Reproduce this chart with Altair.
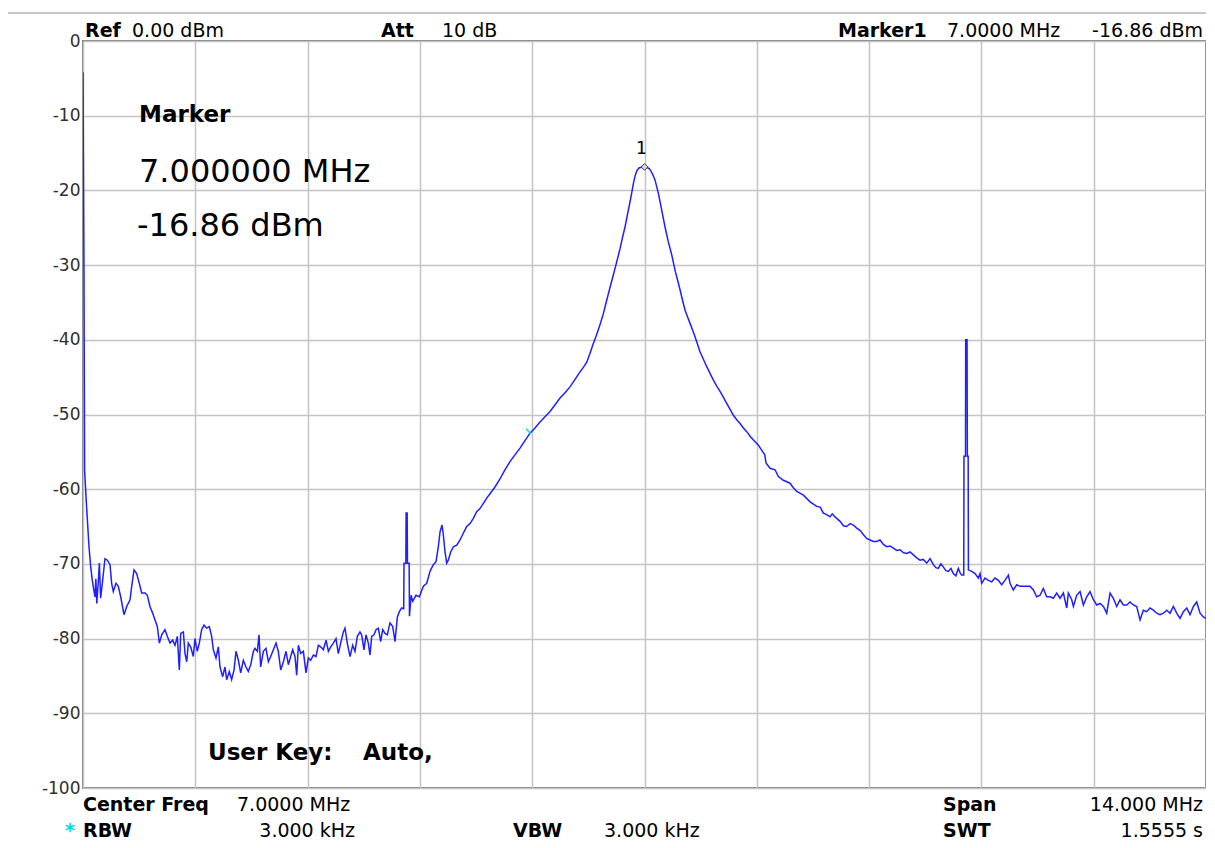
import altair as alt
import pandas as pd

# ---- trace (frequency in MHz, level in dBm) ----
freq = [
    0.000, 0.012, 0.020, 0.046, 0.075, 0.096, 0.116, 0.135, 0.150, 0.160, 0.172, 0.190, 0.204, 0.220, 0.245,
    0.274, 0.303, 0.337, 0.357, 0.378, 0.411, 0.440, 0.470, 0.511, 0.545, 0.586, 0.607, 0.636, 0.669, 0.702,
    0.731, 0.773, 0.802, 0.835, 0.869, 0.898, 0.927, 0.952, 0.981, 1.022, 1.051, 1.085, 1.118, 1.147, 1.176,
    1.201, 1.218, 1.251, 1.272, 1.293, 1.313, 1.342, 1.375, 1.396, 1.425, 1.450, 1.479, 1.509, 1.542, 1.575,
    1.604, 1.625, 1.658, 1.687, 1.708, 1.741, 1.770, 1.791, 1.824, 1.853, 1.883, 1.907, 1.937, 1.966, 1.999,
    2.032, 2.061, 2.091, 2.124, 2.144, 2.174, 2.194, 2.215, 2.248, 2.281, 2.311, 2.340, 2.373, 2.406, 2.435,
    2.465, 2.498, 2.531, 2.560, 2.589, 2.614, 2.643, 2.664, 2.685, 2.714, 2.747, 2.780, 2.809, 2.838, 2.872,
    2.905, 2.934, 2.963, 2.996, 3.030, 3.059, 3.088, 3.121, 3.154, 3.183, 3.212, 3.246, 3.266, 3.295, 3.329,
    3.362, 3.391, 3.420, 3.453, 3.474, 3.503, 3.528, 3.557, 3.578, 3.599, 3.628, 3.653, 3.682, 3.711, 3.736,
    3.765, 3.794, 3.827, 3.861, 3.890, 3.919, 3.944, 3.973, 3.998, 4.002, 4.025, 4.028, 4.041, 4.045, 4.066,
    4.070, 4.090, 4.110, 4.151, 4.193, 4.243, 4.285, 4.326, 4.367, 4.401, 4.430, 4.451, 4.476, 4.492, 4.513,
    4.534, 4.554, 4.584, 4.617, 4.659, 4.700, 4.741, 4.783, 4.825, 4.866, 4.908, 4.949, 4.991, 5.033, 5.074,
    5.136, 5.200, 5.260, 5.323, 5.385, 5.448, 5.510, 5.573, 5.635, 5.697, 5.760, 5.822, 5.885, 5.947, 6.009,
    6.071, 6.134, 6.196, 6.238, 6.280, 6.321, 6.362, 6.404, 6.445, 6.487, 6.529, 6.570, 6.612, 6.653, 6.695,
    6.726, 6.757, 6.788, 6.820, 6.841, 6.861, 6.882, 6.903, 6.930, 6.960, 7.000, 7.030, 7.062, 7.100, 7.131,
    7.173, 7.214, 7.256, 7.297, 7.339, 7.381, 7.412, 7.443, 7.474, 7.505, 7.536, 7.568, 7.599, 7.630, 7.661,
    7.692, 7.734, 7.776, 7.817, 7.859, 7.900, 7.942, 7.984, 8.025, 8.067, 8.108, 8.150, 8.191, 8.233, 8.275,
    8.316, 8.358, 8.420, 8.474, 8.500, 8.515, 8.565, 8.627, 8.669, 8.731, 8.814, 8.856, 8.898, 8.981, 9.064,
    9.147, 9.190, 9.230, 9.272, 9.313, 9.340, 9.375, 9.438, 9.480, 9.521, 9.563, 9.604, 9.645, 9.687, 9.730,
    9.770, 9.812, 9.853, 9.895, 9.936, 9.978, 10.020, 10.061, 10.103, 10.144, 10.186, 10.228, 10.269, 10.310, 10.352,
    10.394, 10.435, 10.476, 10.518, 10.560, 10.601, 10.632, 10.663, 10.694, 10.725, 10.757, 10.788, 10.820, 10.850, 10.882,
    10.912, 10.935, 10.954, 10.980, 10.983, 11.002, 11.004, 11.021, 11.025, 11.035, 11.038, 11.079, 11.121, 11.162, 11.183,
    11.204, 11.245, 11.287, 11.329, 11.370, 11.411, 11.453, 11.494, 11.536, 11.557, 11.598, 11.640, 11.681, 11.723, 11.765,
    11.806, 11.848, 11.889, 11.931, 11.972, 12.014, 12.056, 12.097, 12.139, 12.180, 12.222, 12.264, 12.284, 12.326, 12.347,
    12.388, 12.430, 12.471, 12.513, 12.554, 12.596, 12.638, 12.679, 12.721, 12.762, 12.804, 12.845, 12.887, 12.928, 12.970,
    13.012, 13.053, 13.095, 13.136, 13.178, 13.219, 13.261, 13.302, 13.344, 13.386, 13.427, 13.469, 13.510, 13.552, 13.593,
    13.635, 13.676, 13.718, 13.760, 13.801, 13.843, 13.884, 13.926, 13.967, 14.000,
]
level = [
    -4.2, -30.5, -57.5, -62.6, -67.7, -70.4, -72.2, -73.5, -74.4, -72.0, -75.3, -72.5, -69.9, -74.6, -72.2,
    -69.3, -69.5, -70.1, -72.6, -73.7, -72.6, -73.0, -74.4, -76.8, -75.7, -74.8, -73.0, -70.8, -71.3, -72.6,
    -73.9, -73.9, -74.2, -75.7, -76.6, -77.5, -78.4, -80.6, -79.5, -78.8, -79.7, -80.6, -80.2, -80.9, -79.7,
    -84.2, -79.3, -79.1, -82.0, -83.1, -80.6, -81.1, -82.4, -80.0, -81.7, -80.6, -78.8, -78.2, -78.6, -78.4,
    -79.7, -81.5, -82.6, -81.1, -83.8, -85.1, -83.8, -85.5, -84.4, -85.5, -84.2, -81.7, -82.9, -84.6, -82.9,
    -83.8, -84.4, -83.5, -81.7, -81.3, -81.7, -79.5, -83.8, -81.7, -81.3, -83.1, -82.4, -81.5, -80.6, -81.7,
    -84.2, -83.1, -81.7, -83.5, -82.4, -81.5, -82.4, -84.9, -80.9, -82.0, -81.7, -84.6, -82.6, -82.9, -82.2,
    -82.4, -80.9, -81.1, -81.5, -80.2, -81.7, -81.1, -80.6, -80.0, -82.0, -80.6, -79.1, -78.6, -80.6, -82.4,
    -80.9, -81.7, -79.7, -79.1, -79.5, -81.5, -79.5, -80.6, -82.2, -79.7, -79.5, -78.8, -78.6, -80.4, -78.8,
    -79.3, -79.5, -77.9, -78.4, -80.4, -77.1, -76.4, -75.9, -76.0, -69.9, -69.9, -63.2, -63.2, -69.9, -69.9,
    -77.0, -74.2, -75.0, -74.2, -74.4, -73.0, -72.6, -71.0, -70.1, -69.7, -67.7, -65.7, -64.8, -66.1, -68.4,
    -69.9, -69.5, -68.4, -67.7, -67.5, -66.8, -65.9, -65.0, -64.6, -63.9, -63.0, -62.6, -61.9, -61.2, -60.6,
    -59.7, -58.6, -57.4, -56.3, -55.4, -54.5, -53.5, -52.5, -51.8, -51.0, -50.3, -49.6, -48.7, -47.8, -47.1,
    -46.3, -45.3, -44.3, -43.7, -43.0, -41.8, -40.5, -39.3, -38.0, -36.5, -34.7, -33.0, -31.3, -29.6, -27.8,
    -26.3, -24.9, -23.2, -21.5, -20.3, -19.1, -18.1, -17.4, -17.0, -16.9, -16.86, -16.9, -17.1, -17.8, -18.6,
    -20.4, -22.6, -24.9, -26.9, -28.6, -30.7, -32.0, -33.3, -34.7, -36.0, -36.9, -37.8, -38.7, -39.6, -40.6,
    -41.6, -42.6, -43.6, -44.5, -45.4, -46.2, -46.9, -47.7, -48.5, -49.3, -50.1, -50.7, -51.2, -51.8, -52.3,
    -52.9, -53.4, -54.1, -55.0, -55.4, -56.5, -57.2, -57.4, -58.3, -58.8, -59.2, -59.8, -60.3, -60.8, -61.7,
    -62.3, -62.4, -63.2, -63.4, -63.7, -63.3, -63.7, -64.3, -64.9, -65.0, -64.6, -64.8, -65.2, -65.5, -66.1,
    -66.6, -66.8, -67.0, -67.0, -66.8, -67.4, -67.7, -67.6, -67.9, -68.2, -68.1, -68.5, -68.6, -68.4, -68.8,
    -69.2, -69.5, -69.4, -69.9, -69.3, -70.1, -70.5, -70.6, -70.0, -70.4, -70.9, -71.0, -70.6, -71.3, -71.6,
    -70.6, -71.2, -71.5, -71.5, -55.6, -55.6, -40.0, -40.0, -55.6, -55.6, -70.8, -71.0, -71.3, -71.9, -71.3,
    -72.6, -71.9, -72.2, -72.4, -71.9, -72.2, -72.8, -72.2, -71.5, -72.6, -73.5, -72.8, -73.0, -73.0, -73.0,
    -73.0, -73.5, -74.4, -74.2, -73.3, -74.4, -74.4, -74.6, -73.9, -74.6, -73.9, -75.9, -73.9, -74.8, -75.7,
    -74.2, -73.7, -75.5, -74.4, -73.7, -74.8, -75.5, -75.3, -75.7, -76.6, -73.9, -74.6, -75.7, -74.8, -75.5,
    -75.5, -75.1, -75.5, -75.7, -77.5, -76.2, -76.4, -75.9, -76.2, -76.6, -76.8, -76.6, -76.2, -76.6, -75.7,
    -76.6, -77.3, -76.4, -75.9, -76.8, -75.7, -75.1, -76.6, -77.1, -77.3,
]

# marker and display-line tick
marker_freq = [7.0]
marker_level = [-16.86]
cyan_freq = [5.523, 5.585]
cyan_level = [-51.9, -52.6]

x_grid = [0, 1.4, 2.8, 4.2, 5.6, 7.0, 8.4, 9.8, 11.2, 12.6, 14.0]
y_ticks = [0, -10, -20, -30, -40, -50, -60, -70, -80, -90, -100]

FONT = "DejaVu Sans"

trace_df = pd.DataFrame({"freq": freq, "level": level})
marker_df = pd.DataFrame({"freq": marker_freq, "level": marker_level})
cyan_df = pd.DataFrame({"freq": cyan_freq, "level": cyan_level})
one = pd.DataFrame({"k": [0]})

x_enc = alt.X(
    "freq:Q",
    scale=alt.Scale(domain=[0, 14], nice=False, zero=False),
    axis=alt.Axis(values=x_grid, labels=False, ticks=False, domain=False, title=None,
                  grid=True, gridColor="#c4c4c4", gridWidth=1.5),
)
y_enc = alt.Y(
    "level:Q",
    scale=alt.Scale(domain=[-100, 0], nice=False, zero=False),
    axis=alt.Axis(values=y_ticks, ticks=False, domain=False, title=None, grid=True,
                  gridColor="#c4c4c4", gridWidth=1.5, labelPadding=3, labelFontSize=17,
                  labelFont=FONT, labelColor="#303030", labelOverlap=False,
                  labelExpr="'' + datum.value"),
)

trace = alt.Chart(trace_df).mark_line(color="#1f1fff", strokeWidth=1.5, clip=True).encode(
    x=x_enc, y=y_enc
)
cyan = alt.Chart(cyan_df).mark_line(color="#00e0e0", strokeWidth=1.5).encode(
    x="freq:Q", y="level:Q"
)
marker = alt.Chart(marker_df).mark_point(
    shape="diamond", filled=True, fill="#d8d8d8", stroke="#404040", strokeWidth=1, size=45, opacity=1
).encode(x="freq:Q", y="level:Q")
marker_lbl = alt.Chart(marker_df).mark_text(
    text="1", font=FONT, fontSize=17, color="#000000", baseline="alphabetic", align="center", dx=-3, dy=-13
).encode(x="freq:Q", y="level:Q")

top_line = alt.Chart(one).mark_rule(color="#c8c8c8", strokeWidth=2).encode(
    x=alt.value(-75), x2=alt.value(1125), y=alt.value(-28)
)


def txt(s, x, y, size=19, bold=False, align="left", color="#000000"):
    return alt.Chart(one).mark_text(
        text=s, font=FONT, fontSize=size, fontWeight="bold" if bold else "normal",
        align=align, baseline="alphabetic", color=color,
    ).encode(x=alt.value(x), y=alt.value(y))


texts = [
    # header row
    txt("Ref", 2, -4, bold=True),
    txt("0.00 dBm", 49, -4),
    txt("Att", 298, -4, bold=True),
    txt("10 dB", 359, -4),
    txt("Marker1", 755, -4, bold=True),
    txt("7.0000 MHz", 864, -4),
    txt("-16.86 dBm", 1120, -4, align="right"),
    # marker box
    txt("Marker", 56, 81, size=23, bold=True),
    txt("7.000000 MHz", 56, 141, size=32),
    txt("-16.86 dBm", 54, 195, size=32),
    txt("User Key:", 125, 719, size=23, bold=True),
    txt("Auto,", 280, 719, size=23, bold=True),
    # footer
    txt("Center Freq", 0, 770, bold=True),
    txt("7.0000 MHz", 154, 770),
    txt("Span", 860, 770, bold=True),
    txt("14.000 MHz", 1120, 770, align="right"),
    txt("*", -18, 796, bold=True, color="#00d8e8"),
    txt("RBW", 0, 796, bold=True),
    txt("3.000 kHz", 272, 796, align="right"),
    txt("VBW", 430, 796, bold=True),
    txt("3.000 kHz", 521, 796),
    txt("SWT", 860, 796, bold=True),
    txt("1.5555 s", 1120, 796, align="right"),
]

chart = alt.layer(trace, cyan, marker, marker_lbl, top_line, *texts).properties(
    width=1123,
    height=747,
    autosize=alt.AutoSizeParams(type="none"),
    padding={"left": 75, "top": 33, "right": 0, "bottom": 52},
    background="#ffffff",
).configure_view(stroke="#808080", strokeWidth=2)

chart.save("out.html", embed_options={"renderer": "svg", "actions": False})
